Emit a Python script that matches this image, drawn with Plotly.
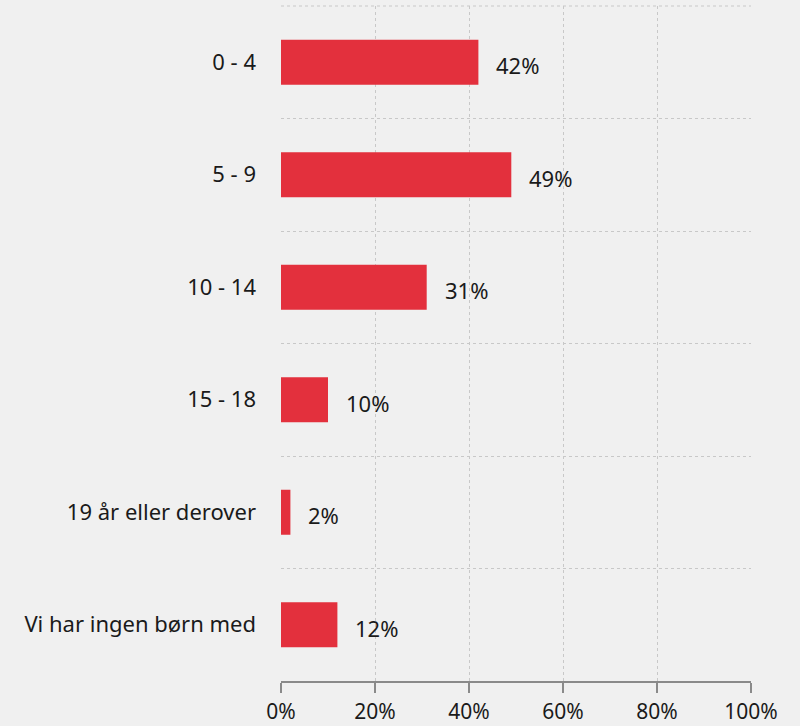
from plotly import graph_objs as go

categories = ["0 - 4", "5 - 9", "10 - 14", "15 - 18", "19 år eller derover", "Vi har ingen børn med"]
values = [42, 49, 31, 10, 2, 12]
x_ticks = [0, 20, 40, 60, 80, 100]
x_tick_labels = ["0%", "20%", "40%", "60%", "80%", "100%"]

BG = "#f0f0f0"
RED = "#e3303d"
GRID = "#c8c8c8"
FONT = "Noto Sans, Open Sans, sans-serif"

fig = go.Figure()
fig.add_trace(go.Bar(x=values, y=categories, orientation="h",
                     marker=dict(color=RED, line=dict(width=0)),
                     width=0.4, showlegend=False, hoverinfo="none"))

for cat, val in zip(categories, values):
    fig.add_annotation(x=val, y=cat, text=f"{val}%", showarrow=False,
                       xanchor="left", xshift=16, yshift=-3,
                       font=dict(size=22, color="#1a1a1a", family=FONT))

# dotted line on top of the plot area
fig.add_shape(type="line", xref="paper", yref="paper", x0=0, x1=1, y0=1, y1=1,
              line=dict(color=GRID, width=1, dash="dot"))

fig.update_layout(
    width=800, height=726,
    margin=dict(l=281, r=49, t=6, b=45),
    paper_bgcolor=BG, plot_bgcolor=BG,
    font=dict(family=FONT, size=22, color="#1a1a1a"),
)
fig.update_xaxes(range=[0, 100], tickvals=x_ticks, ticktext=x_tick_labels,
                 showgrid=True, gridcolor=GRID, griddash="dot", gridwidth=1,
                 zeroline=False, showline=True, linecolor="#8a8a8a", linewidth=2,
                 ticks="outside", ticklen=10, tickwidth=2, tickcolor="#8a8a8a",
                 tickfont=dict(size=21), ticklabelstandoff=1,
                 automargin=False, fixedrange=True)
fig.update_yaxes(categoryorder="array", categoryarray=categories, autorange="reversed",
                 tickson="boundaries", showgrid=True, gridcolor=GRID, griddash="dot",
                 gridwidth=1, ticks="", showline=False, zeroline=False,
                 ticklabelstandoff=24, automargin=False, fixedrange=True)

fig.write_html("out.html", config={"displayModeBar": False},
               post_script="document.body.style.margin='0';")
